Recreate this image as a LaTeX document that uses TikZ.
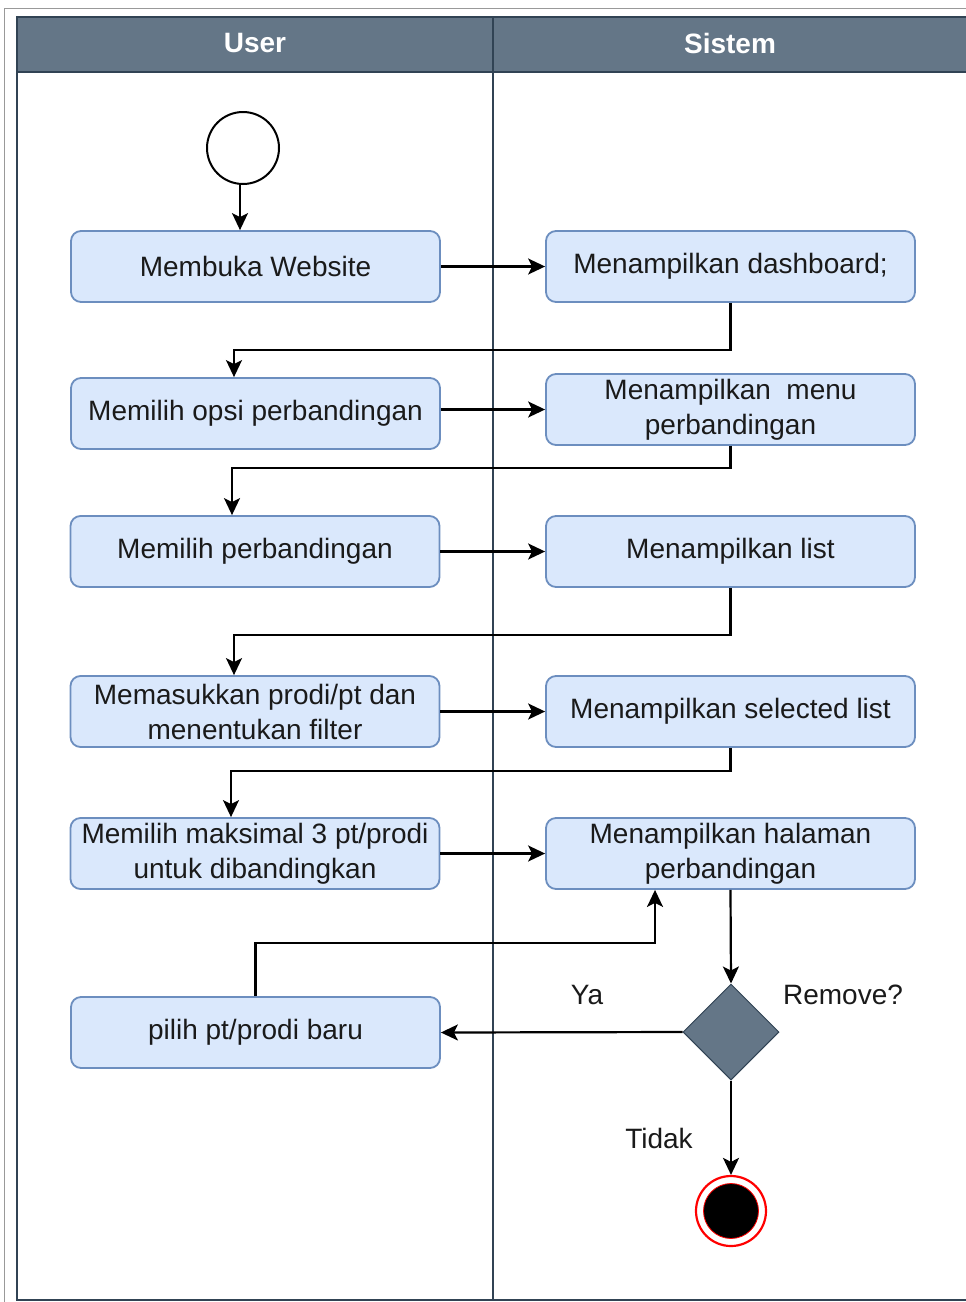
\documentclass[tikz,border=0pt]{standalone}
\usepackage{fontspec}
\setmainfont{Liberation Sans}
\usetikzlibrary{shapes.geometric,arrows.meta}
\definecolor{laneFill}{HTML}{647687}
\definecolor{laneLine}{HTML}{314354}
\definecolor{boxFill}{HTML}{DAE8FC}
\definecolor{boxLine}{HTML}{6C8EBF}
\definecolor{txt}{HTML}{1A1A1A}
\tikzset{
  act/.style={draw=boxLine, fill=boxFill, line width=1.8pt, rounded corners=10pt,
    minimum width=369pt, minimum height=71pt, align=center, inner sep=0pt,
    text=txt, font=\fontsize{28}{35}\selectfont},
  flow/.style={line width=2.2pt, -{Stealth[length=17pt,width=16pt,inset=4pt]}},
  lbl/.style={text=txt, font=\fontsize{28}{35}\selectfont, inner sep=0pt},
  head/.style={text=white, font=\bfseries\fontsize{28}{34}\selectfont, inner sep=0pt}
}
\begin{document}
\begin{tikzpicture}[x=1pt,y=-1pt]
\useasboundingbox (0,0) rectangle (966,1302);
% outer frame
\draw[gray!80, line width=1.2pt] (4.5,8.5) rectangle (980,1315);
% swimlanes
\fill[laneFill] (17,17) rectangle (980,72);
\draw[laneLine, line width=1.8pt] (17,17) rectangle (980,1300);
\draw[laneLine, line width=1.8pt] (17,72) -- (980,72);
\draw[laneLine, line width=1.8pt] (493,17) -- (493,1300);
\node[head] (hUser) at (255,43) {User};
\node[head] (hSys) at (730,43) {Sistem};

% start node
\node[circle, draw=black, fill=white, line width=2pt, minimum size=72pt, inner sep=0pt] (start) at (243,148) {};

% user actions
\node[act] (l1) at (255.5,266.5) {Membuka Website};
\node[act] (l2) at (255.5,413.5) {Memilih opsi perbandingan};
\node[act] (l3) at (255,551.5) {Memilih perbandingan};
\node[act] (l4) at (255,711.5) {Memasukkan prodi/pt dan\\menentukan filter};
\node[act] (l5) at (255,853.5) {Memilih maksimal 3 pt/prodi\\untuk dibandingkan};
\node[act] (l6) at (255.5,1032.5) {pilih pt/prodi baru};

% system actions
\node[act] (r1) at (730.5,266.5) {Menampilkan dashboard;};
\node[act] (r2) at (730.5,409.5) {Menampilkan\ \ menu\\perbandingan};
\node[act] (r3) at (730.5,551.5) {Menampilkan list};
\node[act] (r4) at (730.5,711.5) {Menampilkan selected list};
\node[act] (r5) at (730.5,853.5) {Menampilkan halaman\\perbandingan};

% decision and end
\node[diamond, draw=laneLine, fill=laneFill, line width=1pt, minimum width=96pt, minimum height=96pt, inner sep=0pt] (dec) at (731,1032) {};
\node[circle, draw=red, line width=2.2pt, minimum size=70pt, inner sep=0pt] (end) at (731,1211) {};
\node[circle, draw=red, fill=black, line width=0.8pt, minimum size=55pt, inner sep=0pt] (endDot) at (731,1211) {};

% labels
\node[lbl] (ya) at (587,995) {Ya};
\node[lbl] (rem) at (843,995) {Remove?};
\node[lbl] (tidak) at (659,1138) {Tidak};

% bend points
\coordinate (k0) at (240,190);
\coordinate (k1) at (234,350);
\coordinate (k2) at (232,468);
\coordinate (k3) at (234,635);
\coordinate (k4) at (231,771);
\coordinate (k6) at (655,943);

% connectors
\draw[flow] (k0 |- start.south) -- (k0 |- l1.north);
\draw[flow] (l1.east) -- (r1.west);
\draw[flow] (r1.south) |- (k1) -- (k1 |- l2.north);
\draw[flow] (l2.east |- r2.west) -- (r2.west);
\draw[flow] (r2.south) |- (k2) -- (k2 |- l3.north);
\draw[flow] (l3.east) -- (r3.west);
\draw[flow] (r3.south) |- (k3) -- (k3 |- l4.north);
\draw[flow] (l4.east) -- (r4.west);
\draw[flow] (r4.south) |- (k4) -- (k4 |- l5.north);
\draw[flow] (l5.east) -- (r5.west);
\draw[flow] (r5.south) -- (dec.north);
\draw[flow] (dec.west) -- (l6.east);
\draw[flow] (l6.north) |- (k6) -- (k6 |- r5.south);
\draw[flow] (dec.south) -- (end.north);
\end{tikzpicture}
\end{document}
